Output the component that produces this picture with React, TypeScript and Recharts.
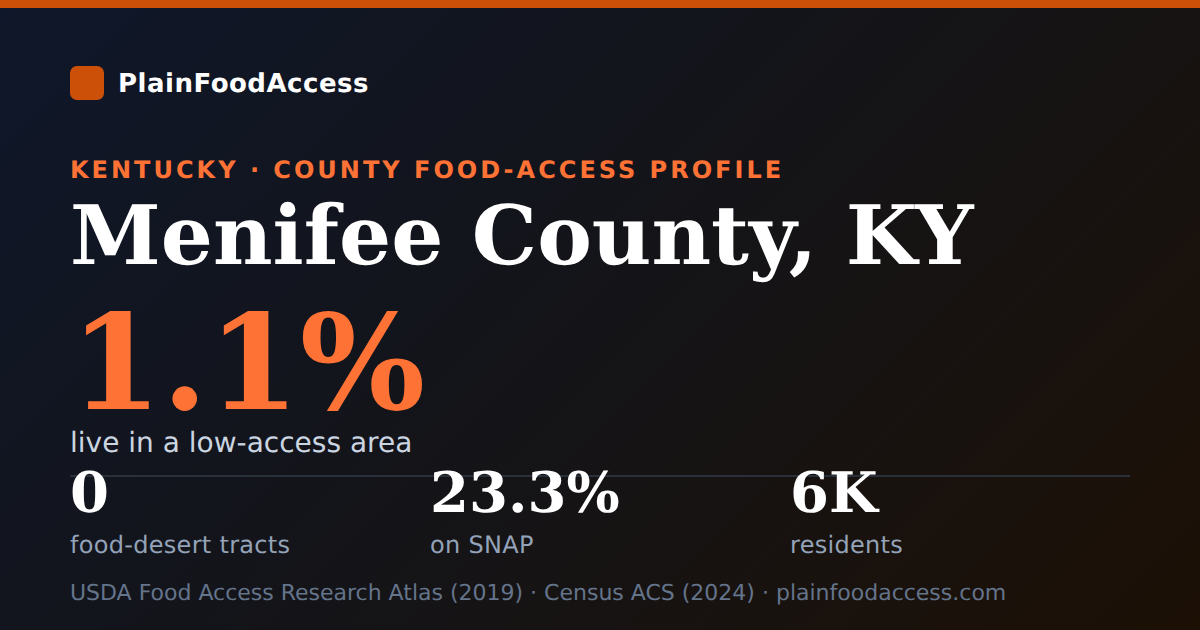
import { ComposedChart, Customized, Line, ReferenceLine, XAxis, YAxis } from "recharts"

const brand = "PlainFoodAccess"
const eyebrow = "KENTUCKY · COUNTY FOOD-ACCESS PROFILE"
const title = "Menifee County, KY"
const headline = "1.1%"
const headlineLabel = "live in a low-access area"
const source = "USDA Food Access Research Atlas (2019) · Census ACS (2024) · plainfoodaccess.com"

const statValues = ["0", "23.3%", "6K"]
const statLabels = ["food-desert tracts", "on SNAP", "residents"]
const statSlots = [0, 1, 2]

const rows = statSlots.map((slot, i) => ({
  slot,
  base: 0,
  value: statValues[i],
  label: statLabels[i],
}))

const SANS = "'DejaVu Sans', sans-serif"
const SERIF = "'DejaVu Serif', serif"
const ORANGE = "#ff7235"

/** 통계 값 + 설명 두 줄 */
function StatDot(props: any) {
  const { cx, cy, payload } = props
  return (
    <g key={payload.slot} textRendering="geometricPrecision">
      <text x={cx} y={cy - 41} fill="#ffffff" fontFamily={SERIF} fontWeight={700} fontSize={56}>
        {payload.value}
      </text>
      <text x={cx} y={cy} fill="#94a3b8" fontFamily={SANS} fontSize={24} letterSpacing={0.3}>
        {payload.label}
      </text>
    </g>
  )
}

function Heading() {
  return (
    <g textRendering="geometricPrecision">
      <rect x={70} y={66} width={34} height={34} rx={7} fill="#cc5008" />
      <text x={118} y={92} fill="#ffffff" fontFamily={SANS} fontWeight={700} fontSize={26} letterSpacing={0.5}>
        {brand}
      </text>
      <text x={70} y={178} fill={ORANGE} fontFamily={SANS} fontWeight={700} fontSize={24} letterSpacing={3}>
        {eyebrow}
      </text>
      <text x={70} y={264} fill="#ffffff" fontFamily={SERIF} fontWeight={700} fontSize={82}>
        {title}
      </text>
      <text x={70} y={409} fill={ORANGE} fontFamily={SERIF} fontWeight={700} fontSize={132}>
        {headline}
      </text>
      <text x={70} y={452} fill="#cbd5e1" fontFamily={SANS} fontSize={28}>
        {headlineLabel}
      </text>
      <text x={70} y={600} fill="#64748b" fontFamily={SANS} fontSize={22}>
        {source}
      </text>
    </g>
  )
}

export default function App() {
  return (
    <div
      style={{
        position: "relative",
        width: 1200,
        height: 630,
        overflow: "hidden",
        background: "linear-gradient(135deg, #0f172a 0%, #141418 50%, #1c1005 100%)",
      }}
    >
      <style>{"body{margin:0}"}</style>
      <div style={{ position: "absolute", left: 0, top: 0, width: 1200, height: 8, background: "#cc5008" }} />
      <ComposedChart
        width={1200}
        height={630}
        data={rows}
        margin={{ top: 476, right: 70, bottom: 77, left: 70 }}
      >
        <XAxis type="number" dataKey="slot" domain={[0, 1060 / 360]} hide />
        <YAxis type="number" domain={[0, 1]} hide />
        <ReferenceLine y={1} stroke="#293039" strokeWidth={2} />
        <Line
          dataKey="base"
          stroke="none"
          isAnimationActive={false}
          dot={(p: any) => <StatDot key={p.index} {...p} />}
        />
        <Customized component={Heading} />
      </ComposedChart>
    </div>
  )
}
